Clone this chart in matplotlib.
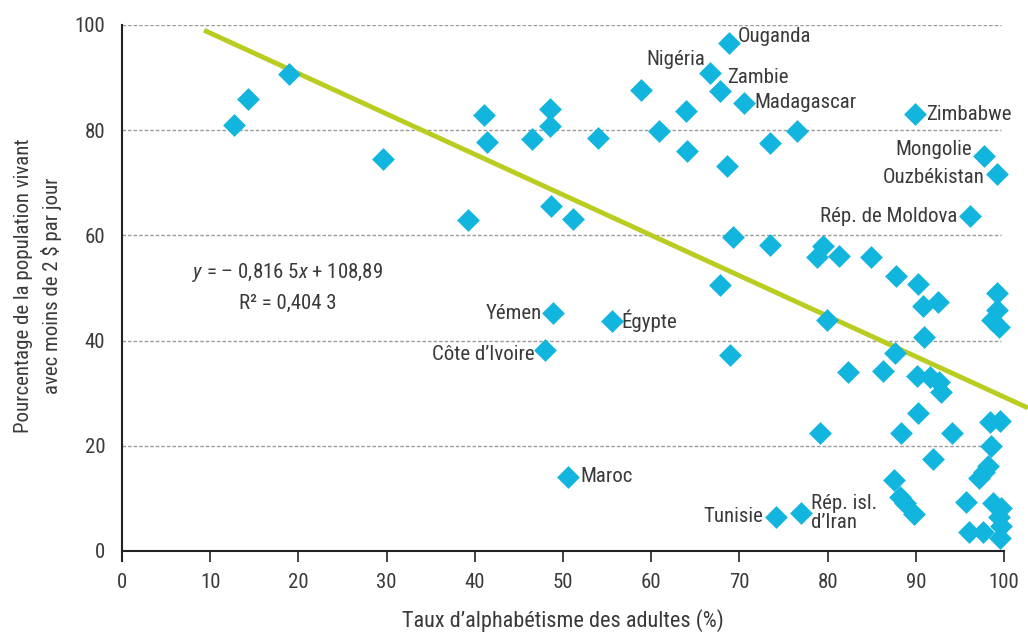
import matplotlib
matplotlib.use("Agg")
import matplotlib.pyplot as plt

FONT = ['Roboto Condensed', 'DejaVu Sans']
plt.rcParams['font.family'] = FONT
plt.rcParams['mathtext.fontset'] = 'custom'
plt.rcParams['mathtext.rm'] = 'Roboto Condensed'
plt.rcParams['mathtext.it'] = 'Roboto Condensed:italic'

# alphabétisation (%) / pauvreté < 2 $ (%)
literacy = [18.9, 14.3, 12.7, 29.6, 41.0, 41.4, 39.2, 46.5, 48.5, 48.5,
            48.6, 51.1, 54.0, 58.8, 60.9, 63.9, 64.0, 68.8, 66.7, 67.8,
            70.5, 89.9, 97.7, 99.2, 96.1, 76.5, 73.5, 68.6, 69.3, 73.5,
            79.5, 78.8, 81.3, 84.9, 87.8, 90.2, 99.2, 90.8, 92.5, 99.2,
            98.6, 99.4, 67.8, 79.9, 90.9, 68.9, 87.6, 82.3, 86.3, 90.1,
            91.6, 92.6, 92.9, 90.2, 98.4, 99.5, 79.1, 88.3, 94.1, 98.5,
            91.9, 98.2, 97.7, 97.2, 87.5, 88.2, 88.8, 89.8, 95.7, 98.8,
            99.7, 99.4, 99.7, 99.5, 96.0, 97.6, 74.2, 77.0, 48.9, 55.5,
            48.0, 50.6]
poverty = [90.6, 85.9, 80.9, 74.5, 82.8, 77.8, 62.9, 78.4, 84.1, 80.8,
           65.5, 63.1, 78.5, 87.6, 79.8, 83.7, 76.0, 96.6, 90.9, 87.5,
           85.2, 83.0, 75.0, 71.6, 63.6, 79.9, 77.6, 73.2, 59.6, 58.1,
           58.0, 55.8, 56.1, 55.8, 52.3, 50.7, 49.1, 46.6, 47.4, 45.8,
           43.9, 42.5, 50.6, 43.9, 40.7, 37.3, 37.6, 34.0, 34.2, 33.3,
           33.1, 32.2, 30.3, 26.2, 24.6, 24.8, 22.4, 22.4, 22.5, 20.0,
           17.4, 16.2, 15.1, 13.9, 13.4, 10.3, 9.1, 7.0, 9.4, 9.1,
           8.1, 6.5, 4.8, 2.5, 3.7, 3.7, 6.5, 7.2, 45.2, 43.8,
           38.2, 14.1]

# pays nommés : (nom, alphabétisation, pauvreté)
labels = [
    ("Ouganda", 68.8, 96.6),
    ("Nigéria", 66.7, 90.9),
    ("Zambie", 67.8, 87.5),
    ("Madagascar", 70.5, 85.2),
    ("Zimbabwe", 89.9, 83.0),
    ("Mongolie", 97.7, 75.0),
    ("Ouzbékistan", 99.2, 71.6),
    ("Rép. de Moldova", 96.1, 63.6),
    ("Yémen", 48.9, 45.2),
    ("Égypte", 55.5, 43.8),
    ("Côte d’Ivoire", 48.0, 38.2),
    ("Maroc", 50.6, 14.1),
    ("Tunisie", 74.2, 6.5),
    ("Rép. isl.\nd’Iran", 77.0, 7.2),
]
# décalage du texte (pixels) et alignement
label_pos = {
    "Ouganda": (9, 6, "left"),
    "Nigéria": (-5, 13, "right"),
    "Zambie": (7, 13, "left"),
    "Madagascar": (11, 0, "left"),
    "Zimbabwe": (11, 0, "left"),
    "Mongolie": (-12, 7, "right"),
    "Ouzbékistan": (-12, -3, "right"),
    "Rép. de Moldova": (-12, 0, "right"),
    "Yémen": (-11, 0, "right"),
    "Égypte": (10, 0, "left"),
    "Côte d’Ivoire": (-11, -4, "right"),
    "Maroc": (12, 0, "left"),
    "Tunisie": (-13, 0, "right"),
    "Rép. isl.\nd’Iran": (10, 0, "left"),
}

trend_x = [9.3, 102.7]
trend_y = [99.0, 27.2]

xticks = [0, 10, 20, 30, 40, 50, 60, 70, 80, 90, 100]
yticks = [0, 20, 40, 60, 80, 100]

text_col = '#3a3a3a'
blue = '#12b5dd'
green = '#b9cc20'

fig = plt.figure(figsize=(10.28, 6.32), dpi=100)
ax = fig.add_axes([0.1187, 0.1282, 0.858, 0.8323])

for yv in yticks[1:]:
    ax.plot([0, 99.6], [yv, yv], color='#9a9a9a', lw=1.0,
            linestyle=(0, (2.5, 1.5)), zorder=1)

ax.plot(trend_x, trend_y, color=green, lw=3.5, zorder=2, clip_on=False,
        solid_capstyle='butt')

ax.scatter(literacy, poverty, marker='D', s=135, color=blue,
           linewidths=0, zorder=3, clip_on=False)

for name, lx, ly in labels:
    dx, dy, ha = label_pos[name]
    ax.annotate(name, (lx, ly), xytext=(dx * 0.72, dy * 0.72),
                textcoords='offset points', ha=ha, va='center',
                fontsize=15, color=text_col, linespacing=0.95,
                multialignment='left')

ax.text(18.8, 52.9, "$y$ = – 0,816 5$x$ + 108,89", ha='center', va='center',
        fontsize=15, color=text_col)
ax.text(18.8, 47.1, "R² = 0,404 3", ha='center', va='center',
        fontsize=15, color=text_col)

ax.set_xlim(0, 100)
ax.set_ylim(0, 100)
ax.set_xticks(xticks)
ax.set_yticks(yticks)
ax.tick_params(axis='x', direction='out', length=8, width=1.2,
               colors='#222222', labelcolor=text_col, labelsize=15, pad=8)
ax.tick_params(axis='y', length=0, labelcolor=text_col, labelsize=15, pad=12)

for s in ['top', 'right']:
    ax.spines[s].set_visible(False)
for s in ['left', 'bottom']:
    ax.spines[s].set_color('#222222')
    ax.spines[s].set_linewidth(1.5)
ax.spines['left'].set_bounds(-2, 100)

ax.set_xlabel("Taux d’alphabétisme des adultes (%)", fontsize=16,
              color=text_col)
ax.xaxis.set_label_coords(0.5, -0.110)
ax.set_ylabel("Pourcentage de la population vivant\navec moins de 2 $ par jour",
              fontsize=15, color=text_col, linespacing=1.5)
ax.yaxis.set_label_coords(-0.068, 0.505)

fig.savefig("out.png", dpi=100)
